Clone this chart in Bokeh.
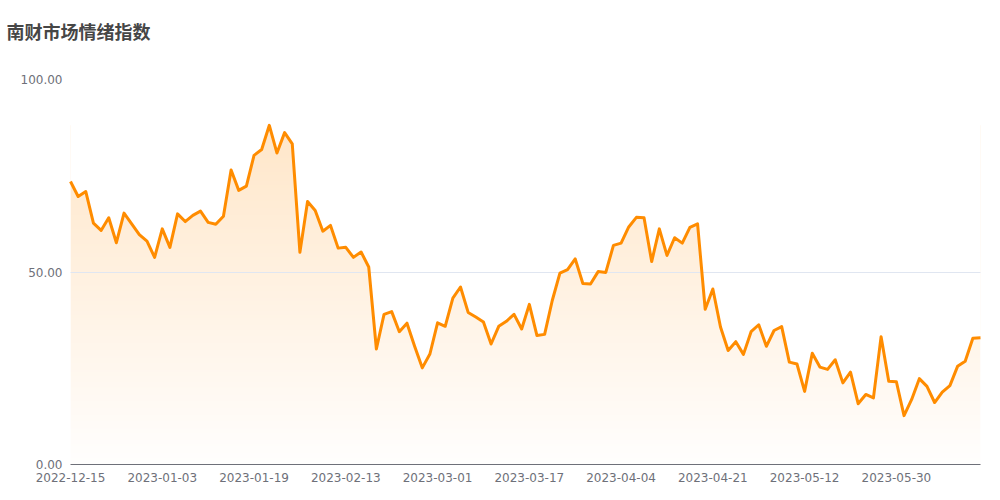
import numpy as np
from bokeh.plotting import figure
from bokeh.models import Range1d, FixedTicker, NumeralTickFormatter, Title
from bokeh.embed import file_html
from bokeh.resources import INLINE

title_text = "南财市场情绪指数"

dates = [
    "2022-12-15", "2022-12-16", "2022-12-19", "2022-12-20", "2022-12-21", "2022-12-22",
    "2022-12-23", "2022-12-26", "2022-12-27", "2022-12-28", "2022-12-29", "2022-12-30",
    "2023-01-03", "2023-01-04", "2023-01-05", "2023-01-06", "2023-01-09", "2023-01-10",
    "2023-01-11", "2023-01-12", "2023-01-13", "2023-01-16", "2023-01-17", "2023-01-18",
    "2023-01-19", "2023-01-20", "2023-01-30", "2023-01-31",
    "2023-02-01", "2023-02-02", "2023-02-03", "2023-02-06", "2023-02-07", "2023-02-08",
    "2023-02-09", "2023-02-10", "2023-02-13", "2023-02-14", "2023-02-15", "2023-02-16",
    "2023-02-17", "2023-02-20", "2023-02-21", "2023-02-22", "2023-02-23", "2023-02-24",
    "2023-02-27", "2023-02-28",
    "2023-03-01", "2023-03-02", "2023-03-03", "2023-03-06", "2023-03-07", "2023-03-08",
    "2023-03-09", "2023-03-10", "2023-03-13", "2023-03-14", "2023-03-15", "2023-03-16",
    "2023-03-17", "2023-03-20", "2023-03-21", "2023-03-22", "2023-03-23", "2023-03-24",
    "2023-03-27", "2023-03-28", "2023-03-29", "2023-03-30", "2023-03-31",
    "2023-04-03", "2023-04-04", "2023-04-06", "2023-04-07", "2023-04-10", "2023-04-11",
    "2023-04-12", "2023-04-13", "2023-04-14", "2023-04-17", "2023-04-18", "2023-04-19",
    "2023-04-20", "2023-04-21", "2023-04-24", "2023-04-25", "2023-04-26", "2023-04-27",
    "2023-04-28",
    "2023-05-04", "2023-05-05", "2023-05-08", "2023-05-09", "2023-05-10", "2023-05-11",
    "2023-05-12", "2023-05-15", "2023-05-16", "2023-05-17", "2023-05-18", "2023-05-19",
    "2023-05-22", "2023-05-23", "2023-05-24", "2023-05-25", "2023-05-26", "2023-05-29",
    "2023-05-30", "2023-05-31",
    "2023-06-01", "2023-06-02", "2023-06-05", "2023-06-06", "2023-06-07", "2023-06-08",
    "2023-06-09", "2023-06-12", "2023-06-13", "2023-06-14",
]

values = [
    73.5, 69.6, 70.9, 62.7, 60.8, 64.1, 57.6, 65.3, 62.5, 59.7,
    58.0, 53.8, 61.2, 56.4, 65.1, 63.1, 64.7, 65.8, 62.9, 62.4,
    64.5, 76.5, 71.2, 72.3, 80.3, 81.8, 88.1, 80.9, 86.2, 83.3,
    55.1, 68.3, 66.0, 60.6, 62.1, 56.2, 56.4, 53.8, 55.2, 51.3,
    30.0, 39.0, 39.7, 34.5, 36.7, 30.7, 25.1, 28.7, 36.8, 35.9,
    43.2, 46.1, 39.5, 38.3, 37.0, 31.3, 35.9, 37.2, 39.0, 35.2,
    41.6, 33.5, 33.8, 42.6, 49.7, 50.6, 53.4, 47.0, 46.9, 50.1,
    49.9, 56.9, 57.5, 61.7, 64.2, 64.1, 52.7, 61.2, 54.3, 58.9,
    57.5, 61.6, 62.5, 40.3, 45.6, 35.7, 29.6, 31.9, 28.6, 34.5,
    36.3, 30.7, 34.8, 35.8, 26.6, 26.1, 19.0, 28.9, 25.3, 24.7,
    27.2, 21.2, 24.0, 15.8, 18.2, 17.3, 33.2, 21.6, 21.5, 12.7,
    16.9, 22.3, 20.3, 16.1, 18.8, 20.5, 25.5, 26.8, 32.8, 32.9,
]

y_ticks = [0, 50, 100]
label_step = 12

idx = list(range(len(values)))
n = len(values)
vmax = max(values)

W, H = 984, 484
p = figure(width=W, height=H, output_backend="svg", toolbar_location=None,
           x_range=Range1d(0, n - 1), y_range=Range1d(0, 100),
           min_border_left=70, min_border_right=4, min_border_top=79, min_border_bottom=20)
p.outline_line_color = None
p.background_fill_color = "white"
p.border_fill_color = "white"

# title (outermost panel) plus a small blank spacer panel between it and the frame
p.title = Title(text=title_text, align="left", offset=-64, standoff=34, vertical_align="top",
                text_font="Noto Sans CJK SC", text_font_style="bold",
                text_font_size="18px", text_color="#464646")
spacer = Title(text=" ", text_font_size="8px", standoff=6, text_color="white")
p.add_layout(spacer, "above")

# gradient fill under the line (vertical gradient from value max to 0)
steps = 256
alpha = np.linspace(0.005, 0.21, steps)  # bottom -> top
g = 255 - alpha * 115
b = 255 - alpha * 255
img = np.zeros((steps, 1), dtype=np.uint32)
view = img.view(dtype=np.uint8).reshape((steps, 1, 4))
view[:, 0, 0] = 255
view[:, 0, 1] = g.astype(np.uint8)
view[:, 0, 2] = b.astype(np.uint8)
view[:, 0, 3] = 255
p.image_rgba(image=[img], x=0, y=0, dw=n - 1, dh=vmax, level="image")

# white mask above the line
p.varea(x=idx, y1=values, y2=[100] * n, fill_color="white", fill_alpha=1.0)

# main line
p.line(idx, values, line_color="#ff8c00", line_width=3, line_join="round", level="overlay")

# axes
p.yaxis.ticker = FixedTicker(ticks=y_ticks)
p.yaxis.formatter = NumeralTickFormatter(format="0.00")
p.yaxis.axis_line_color = None
p.yaxis.major_tick_line_color = None
p.yaxis.minor_tick_line_color = None
p.yaxis.major_tick_out = 0
p.yaxis.minor_tick_out = 0
p.yaxis.major_label_text_color = "#6e7079"
p.yaxis.major_label_text_font = "DejaVu Sans"
p.yaxis.major_label_text_font_size = "12px"
p.yaxis.major_label_standoff = 8

p.xaxis.ticker = FixedTicker(ticks=list(range(0, n, label_step)))
p.xaxis.major_label_overrides = {i: dates[i] for i in range(0, n, label_step)}
p.xaxis.axis_line_color = "#6e7079"
p.xaxis.axis_line_width = 1
p.xaxis.major_tick_line_color = None
p.xaxis.minor_tick_line_color = None
p.xaxis.major_tick_out = 0
p.xaxis.minor_tick_out = 0
p.xaxis.major_label_text_color = "#6e7079"
p.xaxis.major_label_text_font = "DejaVu Sans"
p.xaxis.major_label_text_font_size = "12px"
p.xaxis.major_label_standoff = 8

p.xgrid.grid_line_color = None
p.ygrid.ticker = FixedTicker(ticks=y_ticks[1:])
p.ygrid.grid_line_color = "#e0e6f1"
p.ygrid.level = "annotation"

open("out.html", "w").write(file_html(p, INLINE))
